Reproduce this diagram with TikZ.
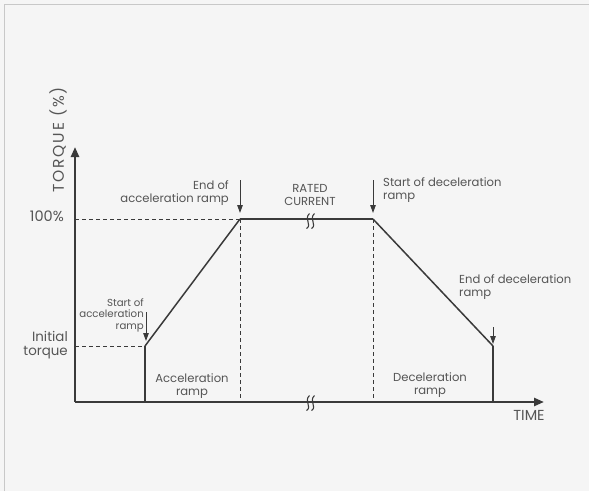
\documentclass[tikz,border=0pt]{standalone}
\usepackage{fontspec}
\setmainfont{Poppins}
\usetikzlibrary{arrows.meta}
\definecolor{bg}{HTML}{F5F5F5}
\definecolor{frame}{HTML}{C8C8C8}
\definecolor{ink}{HTML}{3A3A3A}
\definecolor{txt}{HTML}{555555}
\tikzset{
  axis/.style={draw=ink, line width=2.4pt, -{Triangle[length=10pt,width=8pt]}},
  thick line/.style={draw=ink, line width=2.4pt},
  ramp line/.style={draw=ink, line width=1.5pt},
  guide/.style={draw=ink, line width=0.8pt, dash pattern=on 4pt off 3pt},
  pointer/.style={draw=ink, line width=1pt, -{Triangle[length=8pt,width=5.5pt]}},
  biglabel/.style={text=txt, font=\fontsize{14.5}{16}\selectfont, inner sep=0pt},
  smalllabel/.style={text=txt, font=\fontsize{11.6}{13}\selectfont, inner sep=0pt},
  tinylabel/.style={text=txt, font=\fontsize{10.2}{11.5}\selectfont, inner sep=0pt},
  breakmark/.style={draw=ink, line width=1.1pt},
}
\begin{document}
\begin{tikzpicture}[x=1pt,y=-1pt]
\fill[bg] (0,0) rectangle (589,491);
\useasboundingbox (0,0) rectangle (589,491);
\draw[frame, line width=1.2pt] (4.5,491) -- (4.5,4.5) -- (589,4.5);
% key points
\coordinate (O) at (75,402);
\coordinate (ytip) at (75,147);
\coordinate (xtip) at (544,402);
\coordinate (h100) at (75,219);
\coordinate (hinit) at (75,346);
\coordinate (s0) at (145,402);
\coordinate (s1) at (145,346);
\coordinate (a1) at (240,219);
\coordinate (a0) at (240,402);
\coordinate (d1) at (373,219);
\coordinate (d0) at (373,402);
\coordinate (e1) at (493,346);
\coordinate (e0) at (493,402);
% guides
\draw[guide] (h100) -- (a1);
\draw[guide] (hinit) -- (s1);
\draw[guide] (a1) -- (a0);
\draw[guide] (d1) -- (d0);
% axes
\draw[axis] (O) -- (ytip);
\draw[axis] (O) -- (xtip);
% curve
\draw[thick line] (s0) -- (s1);
\draw[ramp line] (s1) -- (a1);
\draw[thick line] (a1) -- (d1);
\draw[ramp line] (d1) -- (e1);
\draw[thick line] (e1) -- (e0);
% break marks
\coordinate (b1) at (311,221);
\coordinate (b2) at (311,403);
\foreach \b in {b1,b2}{
  \draw[breakmark] ([xshift=-4.5pt,yshift=-7.5pt]\b) .. controls ([xshift=1.5pt,yshift=-4pt]\b) and ([xshift=-7.5pt,yshift=2pt]\b) .. ([xshift=-1.5pt,yshift=7.5pt]\b);
  \draw[breakmark] ([xshift=0.5pt,yshift=-7.5pt]\b) .. controls ([xshift=6.5pt,yshift=-4pt]\b) and ([xshift=-2.5pt,yshift=2pt]\b) .. ([xshift=3.5pt,yshift=7.5pt]\b);
}
% pointers
\coordinate (p1s) at (240,180); \coordinate (p1e) at (240,213);
\coordinate (p2s) at (373,180); \coordinate (p2e) at (373,213);
\coordinate (p3s) at (146,312); \coordinate (p3e) at (146,341);
\coordinate (p4s) at (493,327); \coordinate (p4e) at (493,344);
\draw[pointer] (p1s) -- (p1e);
\draw[pointer] (p2s) -- (p2e);
\draw[pointer] (p3s) -- (p3e);
\draw[pointer] (p4s) -- (p4e);
% labels
\node[biglabel, rotate=90, font=\fontsize{15.5}{16}\selectfont\addfontfeature{LetterSpace=12}] (torque) at (58,140) {TORQUE (\%)};
\node[biglabel, anchor=east] (pct) at (64,216) {100\%};
\node[biglabel, font=\fontsize{13.4}{13.5}\selectfont, anchor=east, align=right] (init) at (68,345) {Initial\\torque};
\node[smalllabel, anchor=east, align=right] (endacc) at (229,193) {End of\\acceleration ramp};
\node[smalllabel, align=center] (rated) at (310,195) {RATED\\CURRENT};
\node[smalllabel, anchor=west, align=left] (startdec) at (383,190) {Start of deceleration\\ramp};
\node[smalllabel, anchor=west, align=left] (enddec) at (459,287) {End of deceleration\\ramp};
\node[tinylabel, anchor=east, align=right] (startacc) at (144,315) {Start of\\acceleration\\ramp};
\node[smalllabel, align=center] (accr) at (192,386) {Acceleration\\ramp};
\node[smalllabel, align=center] (decr) at (430,385) {Deceleration\\ramp};
\node[biglabel] (time) at (529,415.5) {TIME};
\end{tikzpicture}
\end{document}
